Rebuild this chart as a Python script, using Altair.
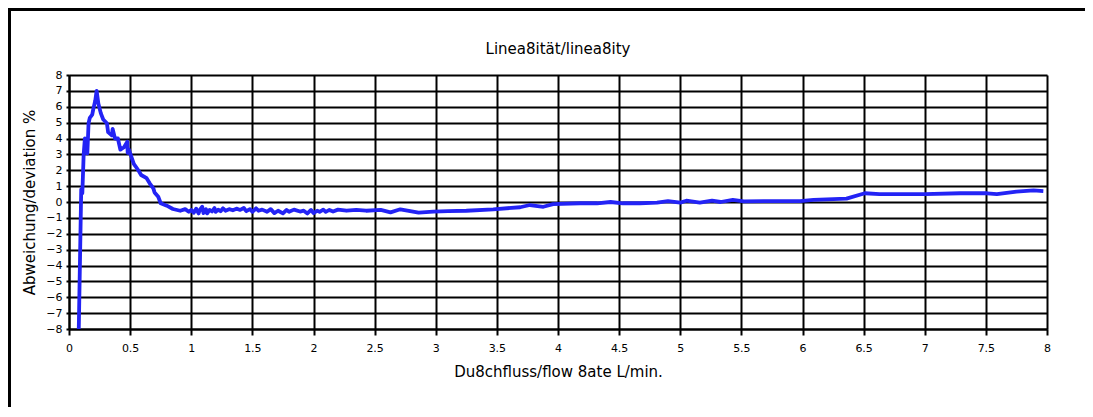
import altair as alt
import pandas as pd

flow = [0.08, 0.09, 0.10, 0.109, 0.12, 0.13, 0.14, 0.15, 0.16, 0.17, 0.19, 0.20, 0.215, 0.226,
        0.24, 0.26, 0.28, 0.31, 0.32, 0.35, 0.357, 0.376, 0.40, 0.42, 0.45, 0.477, 0.48, 0.49,
        0.53, 0.567, 0.59, 0.635, 0.66, 0.69, 0.70, 0.73, 0.75, 0.80, 0.85, 0.91, 0.95, 0.98,
        1.0, 1.02, 1.04, 1.06, 1.07, 1.09, 1.10, 1.12, 1.13, 1.15, 1.17, 1.19, 1.20, 1.22,
        1.24, 1.26, 1.28, 1.31, 1.34, 1.37, 1.40, 1.43, 1.45, 1.48, 1.50, 1.53, 1.55, 1.58,
        1.62, 1.65, 1.68, 1.71, 1.75, 1.78, 1.80, 1.84, 1.89, 1.92, 1.95, 1.98, 2.0, 2.03,
        2.05, 2.08, 2.10, 2.13, 2.16, 2.20, 2.27, 2.35, 2.43, 2.55,
        2.63, 2.71, 2.86, 2.98, 3.10, 3.25, 3.47, 3.69, 3.77, 3.88, 3.96, 4.18, 4.32, 4.43,
        4.53, 4.67, 4.81, 4.90, 5.0, 5.05, 5.16, 5.26, 5.33, 5.43, 5.52, 5.71, 5.98, 6.09,
        6.36, 6.51, 6.63, 6.80, 7.0, 7.29, 7.51, 7.59, 7.75, 7.89, 7.97]
deviation = [-8.0, -3.6, 0.8, 0.55, 3.0, 4.0, 3.1, 3.06, 4.96, 5.3, 5.5, 5.9, 6.4, 7.0,
             6.2, 5.6, 5.2, 4.96, 4.4, 4.2, 4.6, 4.0, 4.0, 3.3, 3.45, 3.8, 3.1, 3.3,
             2.4, 2.0, 1.7, 1.5, 1.18, 0.86, 0.6, 0.33, -0.08, -0.23, -0.44, -0.55, -0.45, -0.62,
             -0.5, -0.68, -0.42, -0.72, -0.5, -0.3, -0.7, -0.45, -0.72, -0.5, -0.6, -0.38, -0.62, -0.48,
             -0.58, -0.4, -0.55, -0.45, -0.52, -0.42, -0.5, -0.38, -0.58, -0.45, -0.62, -0.4, -0.55, -0.48,
             -0.62, -0.45, -0.7, -0.55, -0.72, -0.5, -0.62, -0.48, -0.6, -0.55, -0.72, -0.5, -0.7, -0.55,
             -0.62, -0.48, -0.62, -0.5, -0.6, -0.48, -0.55, -0.5, -0.55, -0.5,
             -0.65, -0.46, -0.67, -0.6, -0.58, -0.55, -0.46, -0.33, -0.19, -0.3, -0.13, -0.08, -0.08, 0.0,
             -0.08, -0.08, -0.04, 0.06, -0.04, 0.08, -0.04, 0.08, 0.0, 0.13, 0.04, 0.06, 0.06, 0.13,
             0.21, 0.55, 0.5, 0.5, 0.5, 0.55, 0.55, 0.49, 0.65, 0.73, 0.69]

x_ticks = [0, 0.5, 1, 1.5, 2, 2.5, 3, 3.5, 4, 4.5, 5, 5.5, 6, 6.5, 7, 7.5, 8]
y_ticks = list(range(-8, 9))
chart_title = "Linea8ität/linea8ity"

df = pd.DataFrame({"flow": flow, "dev": deviation, "order": list(range(len(flow)))})

FONT = "DejaVu Sans"
W, H = 978, 254
PL, PT, PR, PB = 61, 67, 38, 78

line = alt.Chart(df).mark_line(color="#2323f5", strokeWidth=3.8, strokeJoin="round").encode(
    x=alt.X("flow:Q", scale=alt.Scale(domain=[0, 8], nice=False),
            axis=alt.Axis(values=x_ticks, title="Du8chfluss/flow 8ate L/min.",
                          grid=True, gridColor="black", gridWidth=2, gridOpacity=1,
                          domainColor="black", domainWidth=2, tickColor="black", tickWidth=2,
                          tickSize=6, labelFontSize=11, labelPadding=7, titleFontSize=15,
                          titleFontWeight="normal", titlePadding=11, labelFont=FONT,
                          titleFont=FONT, labelColor="black", titleColor="black",
                          format="~g", labelFlush=False)),
    y=alt.Y("dev:Q", scale=alt.Scale(domain=[-8, 8], nice=False),
            axis=alt.Axis(values=y_ticks, title="Abweichung/deviation %",
                          grid=True, gridColor="black", gridWidth=2, gridOpacity=1,
                          domainColor="black", domainWidth=2, tickColor="black", tickWidth=2,
                          tickSize=3, labelFontSize=11, labelPadding=4, titleFontSize=15,
                          titleFontWeight="normal", titlePadding=8, labelFont=FONT,
                          titleFont=FONT, labelColor="black", titleColor="black",
                          format="d", labelFlush=False)),
    order="order:Q",
)

frame_df = pd.DataFrame({"k": [0]})
title_text = alt.Chart(pd.DataFrame({"t": [chart_title]})).mark_text(
    font=FONT, fontSize=15, color="black", baseline="middle", align="center").encode(
    x=alt.value(W / 2), y=alt.value(-26), text="t:N")
left_border = alt.Chart(frame_df).mark_rule(color="black", strokeWidth=3).encode(
    x=alt.value(-PL + 1.5), y=alt.value(-PT), y2=alt.value(H + PB))
top_border = alt.Chart(frame_df).mark_rule(color="black", strokeWidth=3).encode(
    x=alt.value(-PL), x2=alt.value(W + PR), y=alt.value(-PT + 1.5))

chart = alt.layer(line, title_text, left_border, top_border).properties(
    width=W, height=H,
    padding={"left": PL, "top": PT, "right": PR, "bottom": PB},
    autosize=alt.AutoSizeParams(type="none"),
).configure_view(stroke="black", strokeWidth=2).configure(background="white")

chart.save("out.html", embed_options={"renderer": "svg", "actions": False})
